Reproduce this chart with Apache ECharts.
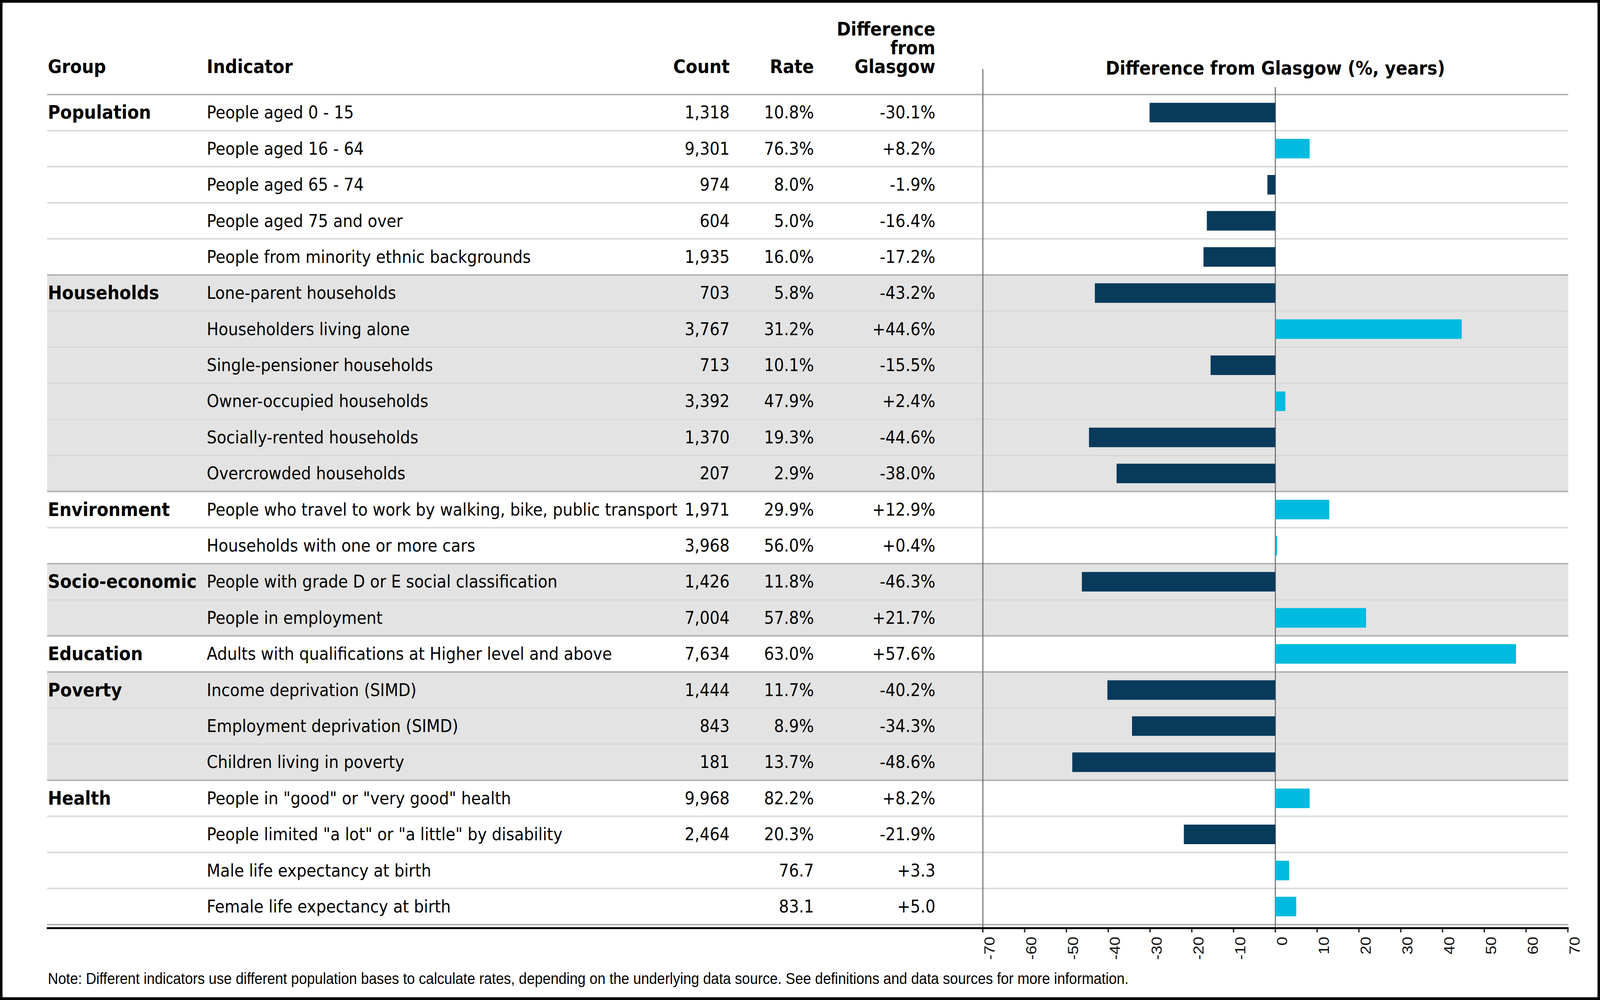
<!DOCTYPE html>
<html>
<head>
<meta charset="utf-8">
<script src="https://cdn.jsdelivr.net/npm/echarts@6/dist/echarts.min.js"></script>
<style>
html,body{margin:0;padding:0;background:#fff;overflow:hidden;}
#wrap{width:4480px;height:2560px;transform-origin:0 0;}
#chart{width:4480px;height:2560px;}
</style>
</head>
<body>
<div id="wrap"><div id="chart"></div></div>
<script>
// ---------------- DATA ----------------
const groups = [
  'Population','Population','Population','Population','Population',
  'Households','Households','Households','Households','Households','Households',
  'Environment','Environment',
  'Socio-economic','Socio-economic',
  'Education',
  'Poverty','Poverty','Poverty',
  'Health','Health','Health','Health'
];
const indicators = [
  'People aged 0 - 15',
  'People aged 16 - 64',
  'People aged 65 - 74',
  'People aged 75 and over',
  'People from minority ethnic backgrounds',
  'Lone-parent households',
  'Householders living alone',
  'Single-pensioner households',
  'Owner-occupied households',
  'Socially-rented households',
  'Overcrowded households',
  'People who travel to work by walking, bike, public transport',
  'Households with one or more cars',
  'People with grade D or E social classification',
  'People in employment',
  'Adults with qualifications at Higher level and above',
  'Income deprivation (SIMD)',
  'Employment deprivation (SIMD)',
  'Children living in poverty',
  'People in "good" or "very good" health',
  'People limited "a lot" or "a little" by disability',
  'Male life expectancy at birth',
  'Female life expectancy at birth'
];
const counts = [1318, 9301, 974, 604, 1935, 703, 3767, 713, 3392, 1370, 207, 1971, 3968, 1426, 7004, 7634, 1444, 843, 181, 9968, 2464, null, null];
const rates = [10.8, 76.3, 8.0, 5.0, 16.0, 5.8, 31.2, 10.1, 47.9, 19.3, 2.9, 29.9, 56.0, 11.8, 57.8, 63.0, 11.7, 8.9, 13.7, 82.2, 20.3, 76.7, 83.1];
const units = ['%','%','%','%','%','%','%','%','%','%','%','%','%','%','%','%','%','%','%','%','%','',''];
const diffs = [-30.1, 8.2, -1.9, -16.4, -17.2, -43.2, 44.6, -15.5, 2.4, -44.6, -38.0, 12.9, 0.4, -46.3, 21.7, 57.6, -40.2, -34.3, -48.6, 8.2, -21.9, 3.3, 5.0];
const shadedGroups = ['Households', 'Socio-economic', 'Poverty'];
const xTicks = {min: -70, max: 70, interval: 10};
const headers = {group: 'Group', indicator: 'Indicator', count: 'Count', rate: 'Rate',
  diff: ['Difference', 'from', 'Glasgow'], chart: 'Difference from Glasgow (%, years)'};
const note = 'Note: Different indicators use different population bases to calculate rates, depending on the underlying data source. See definitions and data sources for more information.';

// ---------------- STYLE / LAYOUT ----------------
const W = 4480, H = 2560;
const sx = window.innerWidth > 0 ? window.innerWidth / W : 1;
const sy = window.innerHeight > 0 ? window.innerHeight / H : 1;
document.getElementById('wrap').style.transform = 'scale(' + sx + ',' + sy + ')';

const NAVY = '#073a5b', CYAN = '#00bbdf';
const SHADE = '#e3e3e3', LINE_DARK = '#b3b3b3', LINE_LIGHT = '#dadada', VLINE = '#707070';
const TF = 'DejaVu Sans', AF = 'Liberation Sans';
const BODY_SIZE = 44, HEAD_SIZE = 47.5;
const TABLE_L = 132, TABLE_R = 4391;
const X_GROUP = 134, X_IND = 579, X_COUNT = 2043, X_RATE = 2279, X_DIFF = 2619;
const HEADER_Y = 171, HEADER_STEP = 48;

const fmtCount = v => v == null ? '' : v.toLocaleString('en-US');
const fmtRate = (v, u) => v.toFixed(1) + u;
const fmtDiff = (v, u) => (v >= 0 ? '+' : '') + v.toFixed(1) + u;

function txt(x, y, text, opt) {
  return {
    type: 'text', x: x, y: y, z2: 10,
    style: Object.assign({
      text: text, fill: '#000', fontFamily: TF, fontSize: BODY_SIZE,
      align: 'left', verticalAlign: 'middle'
    }, opt || {})
  };
}

function renderRow(params, api) {
  const i = params.dataIndex;
  const yc = api.coord([0, i])[1];
  const h = api.size([0, 1])[1];
  const top = yc - h / 2, bot = yc + h / 2;
  const ch = [];
  if (shadedGroups.indexOf(groups[i]) >= 0) {
    ch.push({type: 'rect', shape: {x: TABLE_L, y: top, width: TABLE_R - TABLE_L, height: h}, style: {fill: SHADE}, z2: 0});
  }
  if (i === 0) {
    ch.push({type: 'line', shape: {x1: TABLE_L, y1: top, x2: TABLE_R, y2: top}, style: {stroke: LINE_DARK, lineWidth: 4}, z2: 2});
  }
  const last = i === groups.length - 1;
  const dark = last || groups[i + 1] !== groups[i];
  ch.push({type: 'line', shape: {x1: TABLE_L, y1: bot, x2: TABLE_R, y2: bot}, style: {stroke: dark ? LINE_DARK : LINE_LIGHT, lineWidth: 4}, z2: dark ? 2 : 1});
  if (i === 0 || groups[i - 1] !== groups[i]) {
    ch.push(txt(X_GROUP, yc, groups[i], {fontWeight: 'bold', fontSize: HEAD_SIZE}));
  }
  ch.push(txt(X_IND, yc, indicators[i]));
  ch.push(txt(X_COUNT, yc, fmtCount(counts[i]), {align: 'right'}));
  ch.push(txt(X_RATE, yc, fmtRate(rates[i], units[i]), {align: 'right'}));
  ch.push(txt(X_DIFF, yc, fmtDiff(diffs[i], units[i]), {align: 'right'}));
  return {type: 'group', children: ch};
}

function renderFrame(params, api) {
  const cs = params.coordSys;
  const axisY = cs.y + cs.height + 9;
  const xMin = api.coord([xTicks.min, 0])[0];
  const x0 = api.coord([0, 0])[0];
  const xMax = api.coord([xTicks.max, 0])[0];
  const ch = [];
  ch.push({type: 'line', shape: {x1: xMin, y1: 177, x2: xMin, y2: axisY}, style: {stroke: VLINE, lineWidth: 3}});
  ch.push({type: 'line', shape: {x1: x0, y1: 223, x2: x0, y2: axisY}, style: {stroke: VLINE, lineWidth: 3}});
  ch.push({type: 'line', shape: {x1: TABLE_L - 1, y1: axisY, x2: xMax + 2, y2: axisY}, style: {stroke: '#000', lineWidth: 5}});
  const hb = {fontWeight: 'bold', fontSize: HEAD_SIZE};
  ch.push(txt(X_GROUP, HEADER_Y, headers.group, hb));
  ch.push(txt(X_IND, HEADER_Y, headers.indicator, hb));
  ch.push(txt(X_COUNT, HEADER_Y, headers.count, Object.assign({align: 'right'}, hb)));
  ch.push(txt(X_RATE, HEADER_Y, headers.rate, Object.assign({align: 'right'}, hb)));
  headers.diff.forEach((t, k) => {
    ch.push(txt(X_DIFF, HEADER_Y - HEADER_STEP * (headers.diff.length - 1 - k), t,
      Object.assign({align: 'right', lineHeight: HEADER_STEP - 2}, hb)));
  });
  ch.push(txt(x0, 175, headers.chart, Object.assign({align: 'center'}, hb)));
  return {type: 'group', children: ch};
}

const chart = echarts.init(document.getElementById('chart'), null, {renderer: 'svg', width: W, height: H});
chart.setOption({
  animation: false,
  backgroundColor: '#fff',
  grid: {left: 2752, right: W - 4390, top: 242, bottom: H - 2367, containLabel: false},
  xAxis: {
    type: 'value', min: xTicks.min, max: xTicks.max, interval: xTicks.interval,
    offset: 9,
    axisLine: {show: false},
    axisTick: {show: true, length: 11, lineStyle: {color: '#333', width: 4}},
    splitLine: {show: false},
    axisLabel: {rotate: 90, margin: 22, fontFamily: AF, fontSize: 41, color: '#111', verticalAlign: 'top', lineHeight: 36}
  },
  yAxis: {
    type: 'category', inverse: true, data: indicators,
    axisLine: {show: false}, axisTick: {show: false}, axisLabel: {show: false}, splitLine: {show: false}
  },
  series: [
    {
      type: 'custom', name: 'rows', z: 1, clip: false, silent: true,
      data: indicators.map((_, i) => [0, i]),
      encode: {x: 0, y: 1},
      renderItem: renderRow
    },
    {
      type: 'custom', name: 'frame', z: 2, clip: false, silent: true,
      data: [[0, 0]],
      encode: {x: 0, y: 1},
      renderItem: renderFrame
    },
    {
      type: 'bar', name: 'Difference', z: 3, barWidth: 50,
      data: diffs.map(v => ({value: v, itemStyle: {color: v < 0 ? NAVY : CYAN}}))
    }
  ],
  graphic: [
    {type: 'text', x: 134, y: 2505, z: 10,
     style: {text: note, fontFamily: AF, fontSize: 40, fill: '#000', align: 'left', verticalAlign: 'middle'}},
    {type: 'rect', z: 100, silent: true, shape: {x: 3.5, y: 3.5, width: W - 7, height: H - 7},
     style: {fill: 'none', stroke: '#000', lineWidth: 7}}
  ]
});
</script>
</body>
</html>
